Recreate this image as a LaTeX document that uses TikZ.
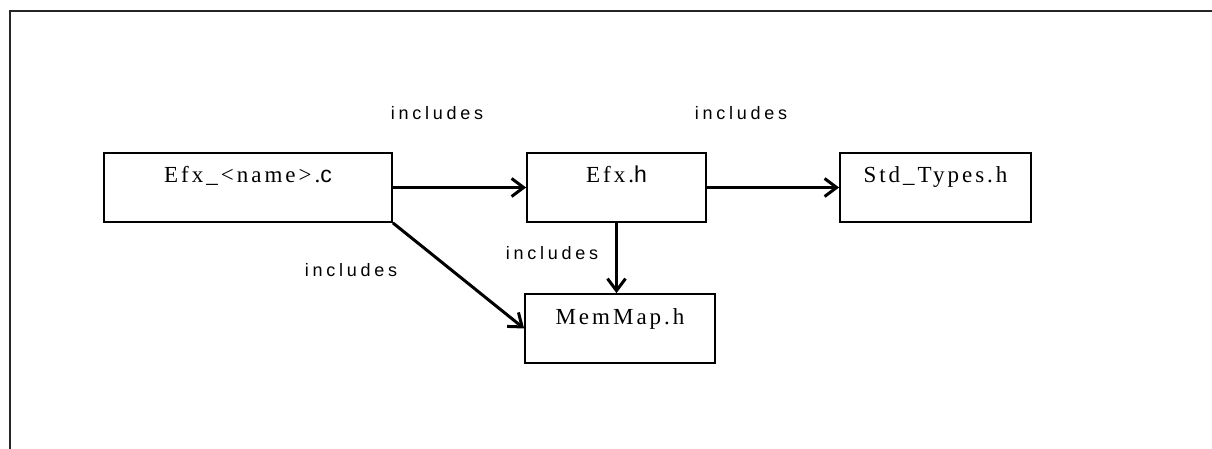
\documentclass[tikz,border=0pt]{standalone}
\usepackage{fontspec}
\setmainfont{Liberation Serif}
\setsansfont{Liberation Sans}
\usetikzlibrary{arrows.meta}
\newfontfamily\boxfont[LetterSpace=13]{Liberation Serif}
\newfontfamily\boxsans[LetterSpace=13]{Liberation Sans}
\newfontfamily\labelfont[LetterSpace=21]{Liberation Sans}
\tikzset{
  filebox/.style={draw=black, line width=1.8pt, inner sep=0pt,
    minimum height=69pt, text height=30pt, text depth=39pt,
    font=\boxfont\fontsize{23pt}{23pt}\selectfont},
  incl/.style={->, >={Straight Barb[length=12pt,width=18pt,line width=3pt]}, line width=3pt},
  lbl/.style={inner sep=0pt, font=\labelfont\fontsize{18pt}{18pt}\selectfont},
  frame/.style={draw=black!85, line width=1.6pt}
}
\begin{document}
\begin{tikzpicture}[x=1pt,y=-1pt]
\useasboundingbox (0,0) rectangle (1212,449);
% outer frame, open at right and bottom
\coordinate (ftl) at (10,11);
\coordinate (ftr) at (1213,11);
\coordinate (fbl) at (10,450);
\draw[frame] (ftr) -- (ftl) -- (fbl);
% file boxes
\node[filebox, minimum width=288pt] (efxc) at (248,187.5) {Efx\_<name>.{\boxsans c}};
\node[filebox, minimum width=179pt] (efxh) at (616.5,187.5) {Efx.{\boxsans h}};
\node[filebox, minimum width=191pt] (std) at (935.5,187.5) {Std\_Types.h};
\node[filebox, minimum width=190pt] (mm) at (620,328.5) {MemMap.h};
% include relations
\draw[incl] (efxc.east) -- (efxh.west);
\draw[incl] (efxh.east) -- (std.west);
\draw[incl] (efxh.south) -- (efxh.south |- mm.north);
\draw[incl] (efxc.south east) -- (mm.west);
% relation labels
\node[lbl] (l1) at (437,113) {includes};
\node[lbl] (l2) at (741,113) {includes};
\node[lbl] (l3) at (552,253) {includes};
\node[lbl] (l4) at (351,270) {includes};
\end{tikzpicture}
\end{document}
